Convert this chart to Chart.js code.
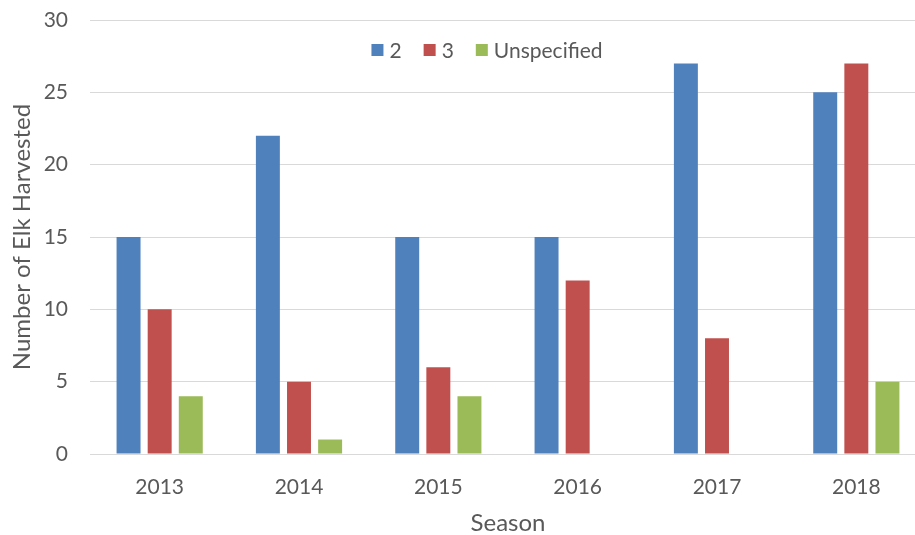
<!DOCTYPE html>
<html><head><meta charset="utf-8">
<script src="https://cdn.jsdelivr.net/npm/chart.js@4/dist/chart.umd.min.js"></script>
<style>html,body{margin:0;padding:0;overflow:hidden;background:#fff}#wrap{width:926px;height:535px;position:relative}</style>
</head><body><div id="wrap"><canvas id="c"></canvas></div>
<script>
const seasons = ['2013','2014','2015','2016','2017','2018'];
const series2 = [15,22,15,15,27,25];
const series3 = [10,5,6,12,8,27];
const seriesUnspecified = [4,1,4,0,0,5];
const seriesNames = ['2','3','Unspecified'];
const colors = ['#4F81BD','#C0504D','#9BBB59'];
const FONT = 'Lato, "Open Sans", sans-serif';
const grey = '#595959';
const data = {
  labels: seasons,
  datasets: [series2, series3, seriesUnspecified].map((d,i)=>({
    label: seriesNames[i], data: d, backgroundColor: colors[i],
    borderWidth: 0,
    categoryPercentage: 0.67, barPercentage: 0.77
  }))
};
const insideLegend = {
  id: 'insideLegend',
  afterDraw(chart) {
    const ctx = chart.ctx;
    ctx.save();
    ctx.font = '21px ' + FONT;
    ctx.textBaseline = 'middle';
    const box = 12, gapT = 6, gapI = 22;
    const items = chart.data.datasets.map(ds => ({t: ds.label, c: ds.backgroundColor, w: ctx.measureText(ds.label).width}));
    let total = items.reduce((a,it)=>a+box+gapT+it.w,0) + gapI*(items.length-1);
    let x = 487 - total/2;
    const y = chart.chartArea.top + 30;
    items.forEach(it => {
      ctx.fillStyle = it.c;
      ctx.fillRect(x, y - box/2, box, box);
      x += box + gapT;
      ctx.fillStyle = grey;
      ctx.fillText(it.t, x, y + 1);
      x += it.w + gapI;
    });
    ctx.restore();
  }
};
new Chart(document.getElementById('c'), {
  type: 'bar', data,
  plugins: [insideLegend],
  options: {
    responsive: true, maintainAspectRatio: false, animation: false,
    layout: {padding: {top: 20, right: 0, left: 0, bottom: 0}},
    plugins: {
      tooltip: {enabled: false},
      legend: {display: false}
    },
    scales: {
      x: {
        grid: {display: false, drawTicks: false},
        border: {color: '#d9d9d9', width: 1},
        ticks: {font: {family: FONT, size: 21}, color: grey, padding: 21},
        title: {display: true, text: 'Season', font: {family: FONT, size: 24, lineHeight: 1.0}, color: grey, padding: {top: 0, bottom: 0}},
        afterFit: s => { s.height = 81; }
      },
      y: {
        min: 0, max: 30,
        ticks: {stepSize: 5, font: {family: FONT, size: 21}, color: grey, padding: 22},
        grid: {color: '#d9d9d9', drawTicks: false},
        border: {display: false},
        title: {display: true, text: 'Number of Elk Harvested', font: {family: FONT, size: 24}, color: grey, padding: {top: 8, bottom: 4}},
        afterFit: s => { s.width = 90; s.paddingTop = 0; s.paddingBottom = 0; }
      }
    }
  }
});
</script></body></html>
